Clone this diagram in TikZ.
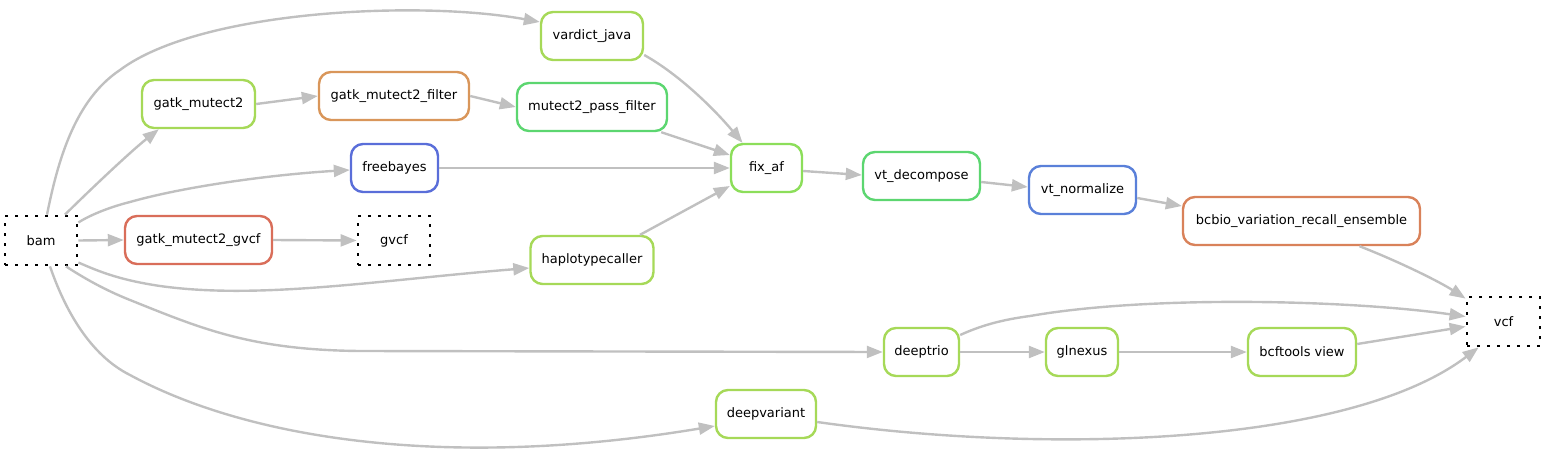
\documentclass[tikz,border=0pt]{standalone}
\usepackage{fontspec}
\setmainfont{DejaVu Sans}
\usetikzlibrary{arrows.meta}
\definecolor{lime}{RGB}{166,217,88}
\definecolor{limetwo}{RGB}{140,222,90}
\definecolor{grn}{RGB}{92,214,112}
\definecolor{blu}{RGB}{90,110,217}
\definecolor{blutwo}{RGB}{90,128,217}
\definecolor{redo}{RGB}{217,110,90}
\definecolor{oran}{RGB}{217,130,90}
\definecolor{ochre}{RGB}{217,150,90}
\definecolor{edgec}{RGB}{192,192,192}
\begin{document}
\begin{tikzpicture}[x=1pt,y=-1pt,
  job/.style={draw, rounded corners=12pt, line width=2.4pt, minimum height=48pt, inner sep=0pt, fill=white, font=\fontsize{13}{15}\selectfont},
  file/.style={draw=black, line width=2.8pt, dash pattern=on 2.8pt off 7.2pt, minimum width=72pt, minimum height=49pt, inner sep=0pt, font=\fontsize{13}{15}\selectfont},
  conn/.style={draw=edgec, line width=2.4pt, -{Triangle[length=16pt,width=12pt]}}]
\useasboundingbox (0,0) rectangle (1545,455);
% nodes
\node[file] (bam) at (41,240.5) {bam};
\node[job, draw=redo, minimum width=147pt] (gmg) at (198.5,240) {gatk\_mutect2\_gvcf};
\node[file] (gvcf) at (394,240.5) {gvcf};
\node[job, draw=lime, minimum width=113pt] (gm2) at (198.5,104) {gatk\_mutect2};
\node[job, draw=ochre, minimum width=150pt] (gmf) at (394,96) {gatk\_mutect2\_filter};
\node[job, draw=grn, minimum width=150pt] (mpf) at (592,107) {mutect2\_pass\_filter};
\node[job, draw=lime, minimum width=102pt] (vardict) at (592,36) {vardict\_java};
\node[job, draw=blu, minimum width=87pt] (freebayes) at (394.5,168) {freebayes};
\node[job, draw=lime, minimum width=123pt] (hc) at (592,260) {haplotypecaller};
\node[job, draw=limetwo, minimum width=71pt] (fixaf) at (766.5,168) {fix\_af};
\node[job, draw=grn, minimum width=117pt] (vtd) at (921.5,176) {vt\_decompose};
\node[job, draw=blutwo, minimum width=107pt] (vtn) at (1082.5,190) {vt\_normalize};
\node[job, draw=oran, minimum width=237pt] (bcbio) at (1301.5,221) {bcbio\_variation\_recall\_ensemble};
\node[file, minimum width=73pt] (vcf) at (1503.5,321.5) {vcf};
\node[job, draw=lime, minimum width=75pt] (deeptrio) at (921.5,352) {deeptrio};
\node[job, draw=lime, minimum width=72pt] (glnexus) at (1082,352) {glnexus};
\node[job, draw=lime, minimum width=108pt] (bcf) at (1302,352) {bcftools view};
\node[job, draw=lime, minimum width=100pt] (deepvariant) at (766,414) {deepvariant};
% edges
\draw[conn] ([xshift=6pt]bam.north) .. controls (58,160) and (75,100) .. (120,70) .. controls (200,10) and (420,0) .. ([yshift=14pt]vardict.west);
\draw[conn] ([xshift=24pt]bam.north) .. controls (90,190) and (130,152) .. ([xshift=18pt]gm2.south west);
\draw[conn] ([yshift=18pt]bam.east) .. controls (90,215) and (110,207) .. (130,202) .. controls (190,185) and (280,174) .. ([yshift=-2pt]freebayes.west);
\draw[conn] (bam.east) -- (gmg.west);
\draw[conn] ([yshift=-22pt]bam.east) .. controls (100,272) and (120,280) .. (160,286) .. controls (260,300) and (380,280) .. ([yshift=-8pt]hc.west);
\draw[conn] ([xshift=25pt]bam.south) .. controls (90,282) and (110,292) .. (130,300) .. controls (200,328) and (250,350) .. (360,351) -- (deeptrio.west);
\draw[conn] ([xshift=9pt]bam.south) .. controls (65,310) and (90,355) .. (130,375) .. controls (250,440) and (450,470) .. ([yshift=-12pt]deepvariant.west);
\draw[conn] (gm2.east) -- (gmf.west);
\draw[conn] (gmf.east) -- (mpf.west);
\draw[conn] (gmg.east) -- (gvcf.west);
\draw[conn] (vardict.-20) .. controls (680,75) and (715,110) .. ([xshift=-24pt]fixaf.north);
\draw[conn] ([xshift=-7pt]mpf.south east) -- ([yshift=13pt]fixaf.west);
\draw[conn] ([xshift=48pt]hc.north) -- ([yshift=-18pt]fixaf.west);
\draw[conn] (freebayes.east) -- (fixaf.west);
\draw[conn] ([yshift=-3pt]fixaf.east) -- ([yshift=1pt]vtd.west);
\draw[conn] ([yshift=-6pt]vtd.east) -- ([yshift=3pt]vtn.west);
\draw[conn] ([yshift=-8pt]vtn.east) -- ([yshift=15pt]bcbio.west);
\draw[conn] ([xshift=58pt]bcbio.south) .. controls (1400,262) and (1440,282) .. ([yshift=-3pt]vcf.north west);
\draw[conn] ([yshift=17pt]deeptrio.east) .. controls (980,326) and (1000,320) .. (1030,316) .. controls (1150,295) and (1350,300) .. ([yshift=5pt]vcf.west);
\draw[conn] (deeptrio.east) -- (glnexus.west);
\draw[conn] (glnexus.east) -- (bcf.west);
\draw[conn] ([yshift=8pt]bcf.east) -- ([yshift=-5pt]vcf.west);
\draw[conn] ([yshift=-8pt]deepvariant.east) .. controls (1050,455) and (1350,445) .. ([xshift=13pt]vcf.south west);
\end{tikzpicture}
\end{document}
